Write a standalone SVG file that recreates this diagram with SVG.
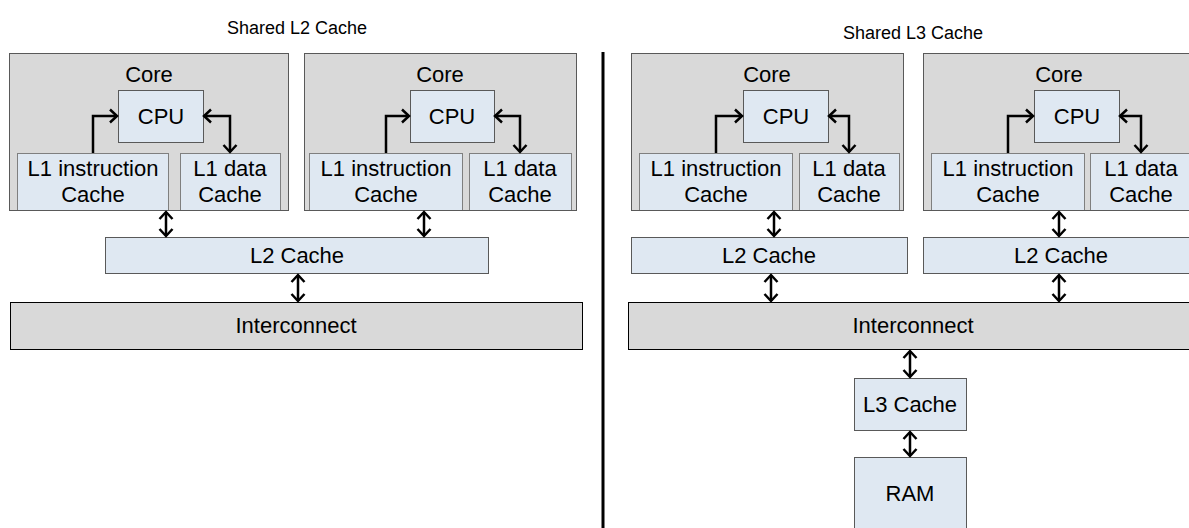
<svg xmlns="http://www.w3.org/2000/svg" width="1189" height="528" viewBox="0 0 1189 528">
<defs>
<style>
text{font-family:"Liberation Sans",Arial,sans-serif;font-size:22px;fill:#000;text-anchor:middle}
.title{font-size:18px}
.core{fill:#d9d9d9;stroke:#595959;stroke-width:1}
.blue{fill:#dfe8f2;stroke:#595959;stroke-width:1}
.l1{fill:#dfe8f2;stroke:#7f7f7f;stroke-width:1}
.ic{fill:#d9d9d9;stroke:#000;stroke-width:1}
.conn{fill:none;stroke:#000;stroke-width:2.5}
</style>
<marker id="ah" markerUnits="userSpaceOnUse" viewBox="-10 -8 12 16" refX="0" refY="0" markerWidth="12" markerHeight="16" orient="auto-start-reverse">
<path d="M-7,-6.5 L0,0 L-7,6.5" fill="none" stroke="#000" stroke-width="2.5"/>
</marker>
</defs>
<rect width="1189" height="528" fill="#fff"/>

<text class="title" x="297" y="34">Shared L2 Cache</text>
<text class="title" x="913" y="39">Shared L3 Cache</text>

<line x1="603" y1="52" x2="603" y2="528" stroke="#000" stroke-width="3"/>

<!-- Left side -->
<g id="core1">
<rect class="core" x="9.5" y="53.5" width="279" height="157"/>
<text x="149" y="82">Core</text>
</g>
<g id="cpu1"><rect class="blue" x="118.5" y="90.5" width="85" height="52"/><text x="161" y="124">CPU</text></g>
<g id="l1i1"><rect class="l1" x="17.5" y="153.5" width="151" height="57"/><text x="93" y="176">L1 instruction</text><text x="93" y="202">Cache</text></g>
<g id="l1d1"><rect class="l1" x="180.5" y="153.5" width="100" height="57"/><text x="230" y="176">L1 data</text><text x="230" y="202">Cache</text></g>
<line x1="9.5" y1="210.5" x2="288.5" y2="210.5" stroke="#595959"/>

<g id="core2">
<rect class="core" x="304.5" y="53.5" width="272" height="157"/>
<text x="440" y="82">Core</text>
</g>
<g id="cpu2"><rect class="blue" x="410.5" y="90.5" width="84" height="52"/><text x="452" y="124">CPU</text></g>
<g id="l1i2"><rect class="l1" x="309.5" y="153.5" width="153" height="57"/><text x="386" y="176">L1 instruction</text><text x="386" y="202">Cache</text></g>
<g id="l1d2"><rect class="l1" x="469.5" y="153.5" width="102" height="57"/><text x="520" y="176">L1 data</text><text x="520" y="202">Cache</text></g>
<line x1="304.5" y1="210.5" x2="576.5" y2="210.5" stroke="#595959"/>

<g id="l2shared"><rect class="blue" x="105.5" y="237.5" width="383" height="36"/><text x="297" y="263">L2 Cache</text></g>
<g id="ic1"><rect class="ic" x="10.5" y="302.5" width="572" height="47"/><text x="296" y="333">Interconnect</text></g>

<!-- Right side -->
<g id="core3">
<rect class="core" x="631.5" y="53.5" width="272" height="157"/>
<text x="767" y="82">Core</text>
</g>
<g id="cpu3"><rect class="blue" x="743.5" y="90.5" width="85" height="52"/><text x="786" y="124">CPU</text></g>
<g id="l1i3"><rect class="l1" x="639.5" y="153.5" width="153" height="57"/><text x="716" y="176">L1 instruction</text><text x="716" y="202">Cache</text></g>
<g id="l1d3"><rect class="l1" x="799.5" y="153.5" width="100" height="57"/><text x="849" y="176">L1 data</text><text x="849" y="202">Cache</text></g>
<line x1="631.5" y1="210.5" x2="903.5" y2="210.5" stroke="#595959"/>

<g id="core4">
<rect class="core" x="923.5" y="53.5" width="272" height="157"/>
<text x="1059" y="82">Core</text>
</g>
<g id="cpu4"><rect class="blue" x="1034.5" y="90.5" width="85" height="52"/><text x="1077" y="124">CPU</text></g>
<g id="l1i4"><rect class="l1" x="931.5" y="153.5" width="153" height="57"/><text x="1008" y="176">L1 instruction</text><text x="1008" y="202">Cache</text></g>
<g id="l1d4"><rect class="l1" x="1090.5" y="153.5" width="102" height="57"/><text x="1141" y="176">L1 data</text><text x="1141" y="202">Cache</text></g>
<line x1="923.5" y1="210.5" x2="1195" y2="210.5" stroke="#595959"/>

<g id="l2a"><rect class="blue" x="631.5" y="237.5" width="276" height="36"/><text x="769" y="263">L2 Cache</text></g>
<g id="l2b"><rect class="blue" x="923.5" y="237.5" width="276" height="36"/><text x="1061" y="263">L2 Cache</text></g>
<g id="ic2"><rect class="ic" x="628.5" y="302.5" width="570" height="47"/><text x="913" y="333">Interconnect</text></g>
<g id="l3"><rect class="blue" x="854.5" y="378.5" width="112" height="52"/><text x="910" y="412">L3 Cache</text></g>
<g id="ram"><rect class="blue" x="854.5" y="457.5" width="112" height="80"/><text x="910" y="501">RAM</text></g>

<g id="connectors">
<path class="conn" d="M93,153 V116 H117" marker-end="url(#ah)"/>
<path class="conn" d="M204,116 H230 V152" marker-start="url(#ah)" marker-end="url(#ah)"/>
<path class="conn" d="M386,153 V116 H409" marker-end="url(#ah)"/>
<path class="conn" d="M495,116 H520 V152" marker-start="url(#ah)" marker-end="url(#ah)"/>
<path class="conn" d="M716,153 V116 H742" marker-end="url(#ah)"/>
<path class="conn" d="M829,116 H849 V152" marker-start="url(#ah)" marker-end="url(#ah)"/>
<path class="conn" d="M1008,153 V116 H1033" marker-end="url(#ah)"/>
<path class="conn" d="M1120,116 H1141 V152" marker-start="url(#ah)" marker-end="url(#ah)"/>

<path class="conn" d="M166,212 V236" marker-start="url(#ah)" marker-end="url(#ah)"/>
<path class="conn" d="M424,212 V236" marker-start="url(#ah)" marker-end="url(#ah)"/>
<path class="conn" d="M298,275 V301" marker-start="url(#ah)" marker-end="url(#ah)"/>
<path class="conn" d="M774,212 V236" marker-start="url(#ah)" marker-end="url(#ah)"/>
<path class="conn" d="M1059,212 V236" marker-start="url(#ah)" marker-end="url(#ah)"/>
<path class="conn" d="M771,275 V301" marker-start="url(#ah)" marker-end="url(#ah)"/>
<path class="conn" d="M1059,275 V301" marker-start="url(#ah)" marker-end="url(#ah)"/>
<path class="conn" d="M910,351 V377" marker-start="url(#ah)" marker-end="url(#ah)"/>
<path class="conn" d="M910,432 V456" marker-start="url(#ah)" marker-end="url(#ah)"/>
</g>
</svg>
